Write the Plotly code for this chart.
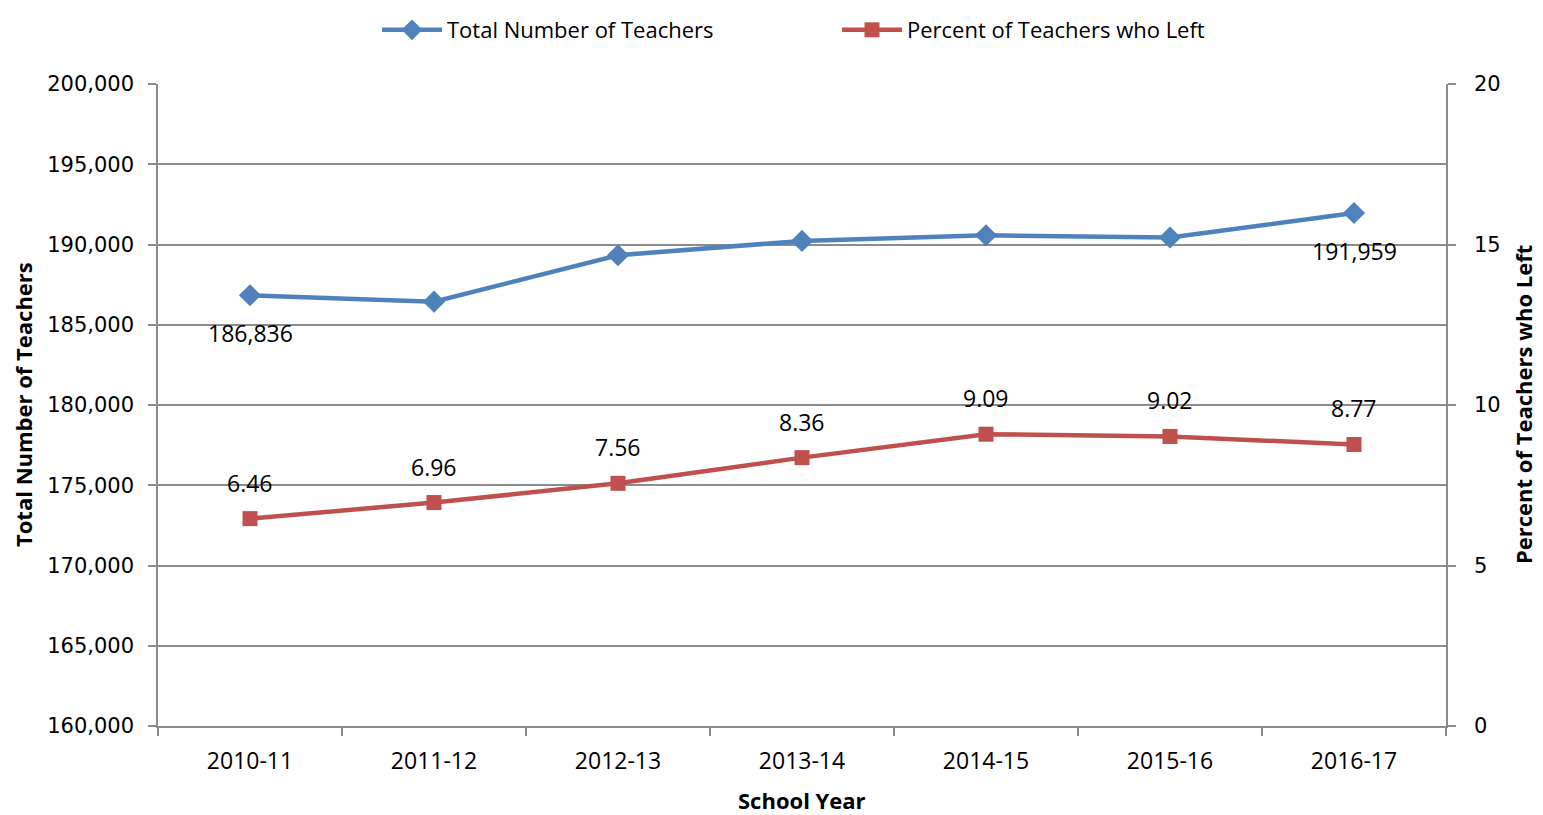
import plotly.graph_objects as go

years = ["2010-11", "2011-12", "2012-13", "2013-14", "2014-15", "2015-16", "2016-17"]
total_teachers = [186836, 186440, 189330, 190223, 190576, 190433, 191959]
percent_left = [6.46, 6.96, 7.56, 8.36, 9.09, 9.02, 8.77]
total_label_idx = [0, 6]

BLUE = "#4F81BD"
RED = "#C0504D"
GRID = "#8C8C8C"
FONT = "Open Sans"
TICKFONT = "DejaVu Sans"

OFF = 8  # default body margin of the html page
W, H = 1543, 815
L, T = 158 - OFF, 84 - OFF
PW, PH = 1288, 642
R = W - L - PW
B = H - T - PH

def px_x(px):
    return (px - OFF - L) / PW

def px_y(py):
    return (T + PH - (py - OFF)) / PH

fig = go.Figure()
fig.add_trace(go.Scatter(
    x=years, y=total_teachers, name="Total Number of Teachers",
    mode="lines+markers", line=dict(color=BLUE, width=4.5),
    marker=dict(symbol="diamond", size=17, color=BLUE), yaxis="y",
))
fig.add_trace(go.Scatter(
    x=years, y=percent_left, name="Percent of Teachers who Left",
    mode="lines+markers", line=dict(color=RED, width=4.5),
    marker=dict(symbol="square", size=15, color=RED), yaxis="y2",
))

annotations = []
for i in total_label_idx:
    annotations.append(dict(
        x=years[i], y=total_teachers[i], xref="x", yref="y",
        text=f"{total_teachers[i]:,}", showarrow=False, yshift=-38,
        font=dict(family=FONT, size=23, color="#000000"),
    ))
for x, v in zip(years, percent_left):
    annotations.append(dict(
        x=x, y=v, xref="x", yref="y2",
        text=f"{v:.2f}", showarrow=False, yshift=36,
        font=dict(family=FONT, size=23, color="#000000"),
    ))

title_font = dict(family=FONT, size=22, color="#000000")
annotations += [
    dict(text="<b>Total Number of Teachers</b>", xref="paper", yref="paper",
         x=px_x(23), y=px_y(405), xanchor="center", yanchor="middle",
         textangle=-90, showarrow=False, font=title_font),
    dict(text="<b>Percent of Teachers who Left</b>", xref="paper", yref="paper",
         x=px_x(1523), y=px_y(405), xanchor="center", yanchor="middle",
         textangle=-90, showarrow=False, font=title_font),
    dict(text="<b>School Year</b>", xref="paper", yref="paper",
         x=px_x(802), y=px_y(800), xanchor="center", yanchor="middle",
         showarrow=False, font=title_font),
]

axis_common = dict(
    showline=True, linecolor=GRID, linewidth=1.5,
    ticks="outside", ticklen=8, tickcolor=GRID, tickwidth=1.5,
    automargin=False, zeroline=False,
)

fig.update_layout(
    width=W, height=H,
    margin=dict(l=L, r=R, t=T, b=B, autoexpand=False),
    paper_bgcolor="white", plot_bgcolor="white",
    showlegend=True,
    legend=dict(orientation="h", x=px_x(377), xanchor="left",
                y=px_y(9), yref="paper", yanchor="top",
                font=dict(family=FONT, size=22, color="#000000"),
                entrywidth=385, entrywidthmode="pixels", itemwidth=60),
    xaxis=dict(
        type="category", range=[-0.5, len(years) - 0.5],
        showgrid=False, tickson="boundaries", ticklabelstandoff=14,
        tickfont=dict(family=FONT, size=23, color="#000000"),
        **axis_common,
    ),
    yaxis=dict(
        range=[160000, 200000], dtick=5000, tickformat=",d",
        showgrid=True, gridcolor=GRID, gridwidth=1.5, ticklabelstandoff=10,
        tickfont=dict(family=TICKFONT, size=21, color="#000000"),
        **axis_common,
    ),
    yaxis2=dict(
        range=[0, 20], dtick=5, overlaying="y", side="right",
        showgrid=False, ticklabelstandoff=14,
        tickfont=dict(family=TICKFONT, size=21, color="#000000"),
        **axis_common,
    ),
    annotations=annotations,
)

fig.write_html("out.html")
